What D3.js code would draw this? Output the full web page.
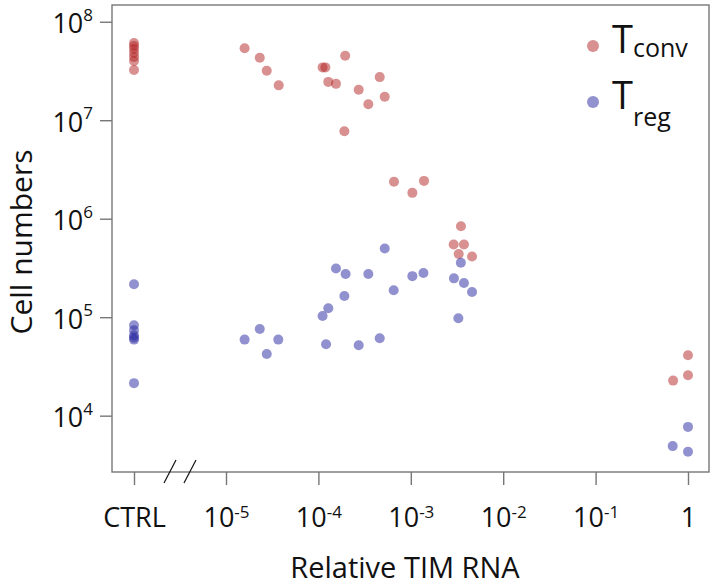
<!DOCTYPE html>
<html>
<head>
<meta charset="utf-8">
<script src="https://cdn.jsdelivr.net/npm/d3@7"></script>
<style>
    body { margin: 0; background: #fff; }
    text { font-family: "Open Sans", sans-serif; fill: #111; }
</style>
</head>
<body>
<div id="chart"></div>
<script>
// control samples (no TIM RNA value, plotted at CTRL)
var ctrlTconv = [6.08e7, 5.66e7, 5.28e7, 4.81e7, 4.38e7, 3.99e7, 3.23e7];
var ctrlTreg = [2.16e5, 8.28e4, 7.36e4, 6.55e4, 6.2e4, 5.92e4, 2.14e4];

// Tconv: relative TIM RNA vs cell numbers
var tconvRna = [1.59e-5, 2.32e-5, 2.76e-5, 3.72e-5, 1.11e-4, 1.19e-4, 1.95e-4, 1.28e-4, 1.55e-4, 4.61e-4,
    2.73e-4, 5.22e-4, 3.47e-4, 1.91e-4, 6.58e-4, 1.39e-3, 1.04e-3, 3.49e-3, 2.91e-3, 3.76e-3,
    3.30e-3, 4.60e-3, 1, 1, 0.69];
var tconvCells = [5.37e7, 4.31e7, 3.18e7, 2.26e7, 3.44e7, 3.44e7, 4.51e7, 2.45e7, 2.34e7, 2.74e7,
    2.04e7, 1.73e7, 1.45e7, 7.74e6, 2.37e6, 2.42e6, 1.83e6, 8.4e5, 5.47e5, 5.47e5,
    4.38e5, 4.13e5, 4.10e4, 2.57e4, 2.27e4];

// Treg: relative TIM RNA vs cell numbers
var tregRna = [1.59e-5, 2.32e-5, 3.68e-5, 2.76e-5, 1.11e-4, 1.28e-4, 1.55e-4, 1.97e-4, 3.47e-4, 1.91e-4,
    5.22e-4, 6.53e-4, 1.04e-3, 1.37e-3, 2.93e-3, 3.76e-3, 4.60e-3, 3.48e-3, 3.27e-3, 1.21e-4,
    2.73e-4, 4.61e-4, 1, 0.683, 1];
var tregCells = [5.92e4, 7.59e4, 5.92e4, 4.23e4, 1.03e5, 1.23e5, 3.12e5, 2.75e5, 2.75e5, 1.64e5,
    4.98e5, 1.88e5, 2.61e5, 2.81e5, 2.48e5, 2.22e5, 1.80e5, 3.57e5, 9.75e4, 5.31e4,
    5.19e4, 6.11e4, 7.69e3, 4.91e3, 4.31e3];

// ticks and labels
var xTicks = [1e-5, 1e-4, 1e-3, 1e-2, 1e-1, 1];
var xTickBase = ["10", "10", "10", "10", "10", "1"];
var xTickExp = ["-5", "-4", "-3", "-2", "-1", ""];
var yTicks = [1e4, 1e5, 1e6, 1e7, 1e8];
var yTickBase = ["10", "10", "10", "10", "10"];
var yTickExp = ["4", "5", "6", "7", "8"];

var seriesNames = ["conv", "reg"];
var seriesColors = ["#b22222", "#23239f"];

var svgWidth = 715;
var svgHeight = 587;
var margin = { top: 5, right: 6, bottom: 115, left: 112 };
var chartWidth = svgWidth - margin.left - margin.right;
var chartHeight = svgHeight - margin.top - margin.bottom;

var svg = d3.select("#chart").append("svg")
    .attr("width", svgWidth)
    .attr("height", svgHeight);

var chartGroup = svg.append("g")
    .attr("transform", `translate(${margin.left}, ${margin.top})`);

// scales: CTRL sits left of the axis break, the rest is log
var xCtrl = d3.scalePoint().domain(["CTRL"]).range([0, 44]).padding(0.5);
var xScale = d3.scaleLog().domain([1e-5, 1]).range([114, 576]);
var yScale = d3.scaleLog()
    .domain([Math.pow(10, 3.428), Math.pow(10, 8.17)])
    .range([chartHeight, 0]);

// box
chartGroup.append("rect")
    .attr("width", chartWidth)
    .attr("height", chartHeight)
    .attr("fill", "none")
    .attr("stroke", "#777")
    .attr("stroke-width", 1.4);

// bottom axis (log part)
var xAxis = chartGroup.append("g")
    .attr("transform", `translate(0, ${chartHeight})`)
    .call(d3.axisBottom(xScale).tickValues(xTicks).tickSize(13).tickSizeOuter(0).tickFormat(""));

// bottom axis (CTRL)
var ctrlAxis = chartGroup.append("g")
    .attr("transform", `translate(0, ${chartHeight})`)
    .call(d3.axisBottom(xCtrl).tickSize(13).tickSizeOuter(0));

var yAxis = chartGroup.append("g")
    .call(d3.axisLeft(yScale).tickValues(yTicks).tickSize(12).tickSizeOuter(0).tickFormat(""));

[xAxis, ctrlAxis, yAxis].forEach(function(ax) {
    ax.select(".domain").remove();
    ax.selectAll("line").attr("stroke", "#777").attr("stroke-width", 1.4);
    ax.selectAll("text").attr("font-family", null).attr("fill", "#111");
});

ctrlAxis.selectAll("text")
    .attr("y", 55)
    .attr("dy", 0)
    .attr("font-size", 27);

xAxis.selectAll("text").each(function(d, i) {
    var t = d3.select(this)
        .attr("y", 55)
        .attr("dy", 0)
        .attr("font-size", 27);
    t.append("tspan").text(xTickBase[i]);
    if (xTickExp[i]) {
        t.append("tspan").attr("dy", -9).attr("font-size", 17).text(xTickExp[i]);
    }
});

yAxis.selectAll("text").each(function(d, i) {
    var t = d3.select(this)
        .attr("x", -19)
        .attr("y", 11)
        .attr("dy", 0)
        .attr("font-size", 27);
    t.append("tspan").text(yTickBase[i]);
    t.append("tspan").attr("dy", -12.6).attr("font-size", 17).text(yTickExp[i]);
});

// axis break marks
var breakX = (xCtrl("CTRL") + xScale(1e-5)) / 2;
[-10, 10].forEach(function(off) {
    chartGroup.append("line")
        .attr("x1", breakX + off - 6)
        .attr("y1", chartHeight + 11)
        .attr("x2", breakX + off + 6)
        .attr("y2", chartHeight - 12)
        .attr("stroke", "#111")
        .attr("stroke-width", 1.2);
});

// points
var pointsGroup = chartGroup.append("g");

function drawPoints(xs, ys, color, ctrl) {
    pointsGroup.selectAll(null)
        .data(ys)
        .enter()
        .append("circle")
        .attr("cx", (d, i) => ctrl ? xCtrl("CTRL") : xScale(xs[i]))
        .attr("cy", d => yScale(d))
        .attr("r", 5)
        .attr("fill", color)
        .attr("fill-opacity", 0.5);
}

drawPoints(null, ctrlTconv, seriesColors[0], true);
drawPoints(tconvRna, tconvCells, seriesColors[0], false);
drawPoints(null, ctrlTreg, seriesColors[1], true);
drawPoints(tregRna, tregCells, seriesColors[1], false);

// legend
var legend = chartGroup.append("g")
    .attr("transform", "translate(481, 41)");
var subDy = [4, 17];
seriesNames.forEach(function(name, i) {
    var row = legend.append("g").attr("transform", `translate(0, ${i * 56})`);
    row.append("circle")
        .attr("r", 6)
        .attr("fill", seriesColors[i])
        .attr("fill-opacity", 0.5);
    var t = row.append("text")
        .attr("x", 19)
        .attr("y", 7)
        .attr("font-size", 38);
    t.append("tspan").text("T");
    t.append("tspan").attr("dy", subDy[i]).attr("font-size", 25).text(name);
});

// axis titles
svg.append("text")
    .attr("transform", "translate(32, 242) rotate(-90)")
    .attr("text-anchor", "middle")
    .attr("font-size", 30)
    .text("Cell numbers");

svg.append("text")
    .attr("x", 405)
    .attr("y", 578)
    .attr("text-anchor", "middle")
    .attr("font-size", 29)
    .text("Relative TIM RNA");
</script>
</body>
</html>
